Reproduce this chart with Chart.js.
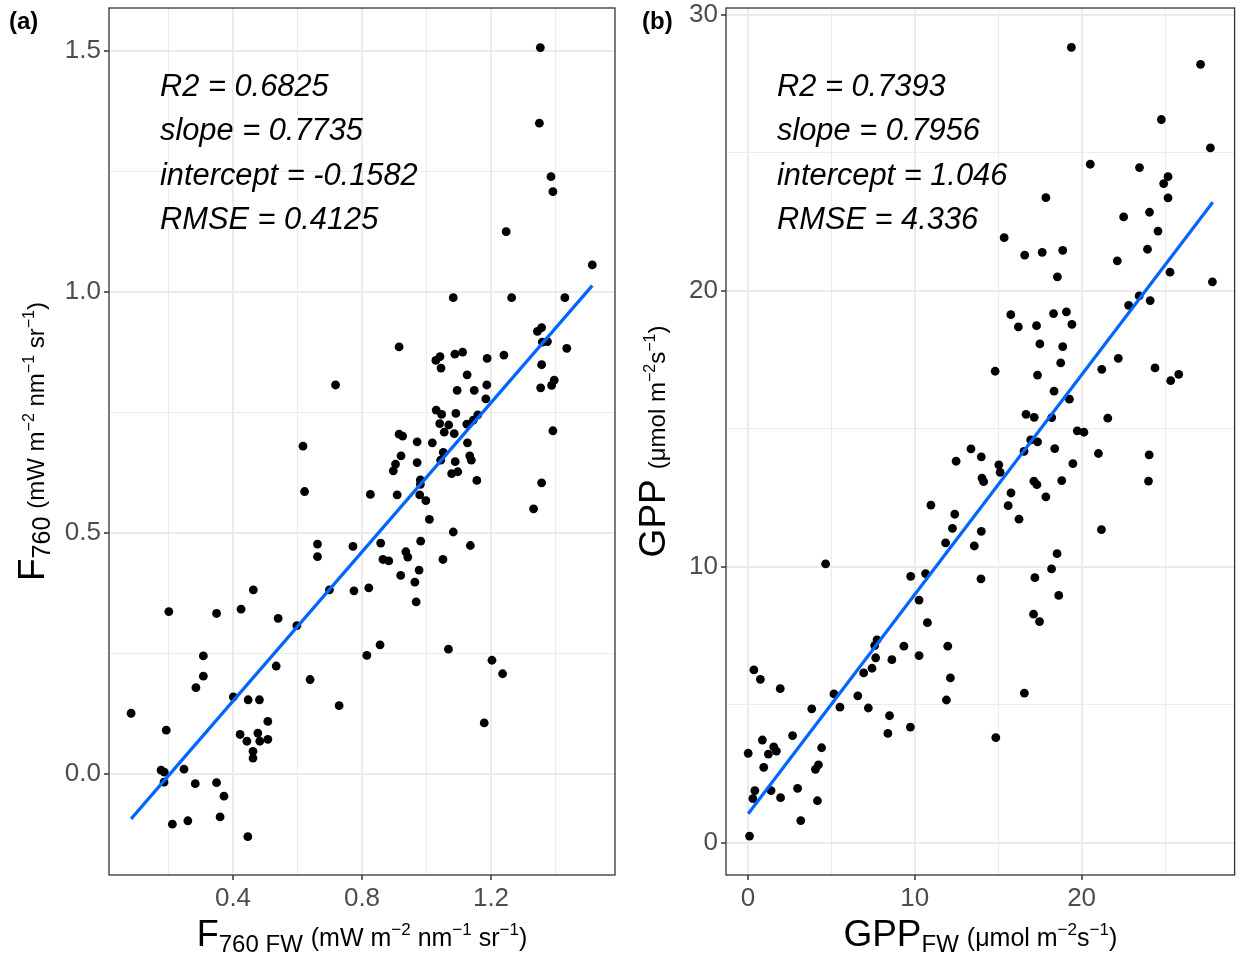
<!DOCTYPE html>
<html>
<head>
<meta charset="utf-8">
<script src="https://cdn.jsdelivr.net/npm/chart.js@4.4.1/dist/chart.umd.min.js"></script>
<style>
  html, body { margin: 0; padding: 0; background: #fff; }
  #wrap { position: relative; width: 1239px; height: 957px; }
  canvas { position: absolute; top: 0; }
  #chartA { left: 0; }
  #chartB { left: 620px; }
</style>
</head>
<body>
<div id="wrap">
  <canvas id="chartA" width="620" height="957"></canvas>
  <canvas id="chartB" width="619" height="957"></canvas>
</div>
<script>
'use strict';

// --- Panel (a): F760 FW vs F760 ---
const f760Fw = [
  1.353, 1.350, 1.386, 1.392, 1.247, 1.514, 1.083, 1.264, 1.429, 1.357,
  1.344, 1.359, 1.375, 1.435, 0.915, 1.029, 1.042, 1.088, 1.112, 1.045,
  1.188, 1.240, 1.126, 1.357, 1.095, 1.148, 1.187, 1.184, 1.354, 1.388,
  1.396, 1.030, 1.047, 1.091, 1.159, 1.145, 1.125, 1.041, 1.069, 1.055,
  1.086, 1.392, 0.915, 0.926, 0.971, 1.018, 1.127, 0.921, 1.052, 1.044,
  1.089, 1.134, 1.139, 0.904, 0.897, 0.971, 1.078, 1.097, 0.981, 0.981,
  1.156, 1.357, 0.826, 0.909, 0.979, 0.998, 1.009, 1.332, 1.083, 0.858,
  0.982, 1.136, 0.936, 0.942, 0.865, 0.883, 1.051, 0.977, 0.920, 0.964,
  0.821, 0.968, 0.856, 0.815, 1.068, 1.203, 1.236, 1.179, 0.718, 0.617,
  0.622, 0.662, 0.662, 0.772, 0.463, 0.201, 0.349, 0.425, 0.540, 0.598,
  0.699, 0.775, 0.308, 0.308, 0.285, 0.534, 0.639, 0.729, 0.084, 0.401,
  0.447, 0.482, 0.508, 0.193, 0.422, 0.477, 0.443, 0.483, 0.508, 0.462,
  0.462, 0.177, 0.187, 0.186, 0.248, 0.283, 0.349, 0.372, 0.360, 0.212,
  0.260, 0.446
];
const f760 = [
  1.507, 1.350, 1.239, 1.208, 1.125, 1.056, 0.988, 0.988, 0.988, 0.926,
  0.918, 0.896, 0.897, 0.883, 0.886, 0.858, 0.866, 0.871, 0.875, 0.842,
  0.862, 0.869, 0.828, 0.849, 0.796, 0.796, 0.807, 0.778, 0.801, 0.806,
  0.817, 0.755, 0.746, 0.748, 0.745, 0.734, 0.726, 0.727, 0.724, 0.709,
  0.706, 0.712, 0.705, 0.701, 0.689, 0.687, 0.687, 0.660, 0.667, 0.651,
  0.648, 0.660, 0.651, 0.643, 0.629, 0.646, 0.623, 0.627, 0.610, 0.601,
  0.609, 0.604, 0.580, 0.579, 0.579, 0.567, 0.528, 0.550, 0.502, 0.479,
  0.483, 0.474, 0.461, 0.450, 0.445, 0.442, 0.445, 0.423, 0.412, 0.398,
  0.386, 0.357, 0.268, 0.246, 0.259, 0.236, 0.208, 0.106, 0.807, 0.680,
  0.586, 0.477, 0.451, 0.472, 0.382, 0.337, 0.333, 0.342, 0.323, 0.308,
  0.382, 0.380, 0.245, 0.203, 0.179, 0.224, 0.196, 0.142, 0.126, 0.160,
  0.154, 0.154, 0.109, 0.091, 0.082, 0.085, 0.068, 0.068, 0.072, 0.047,
  0.033, 0.008, 0.004, -0.017, 0.010, -0.020, -0.018, -0.046, -0.089, -0.104,
  -0.097, -0.130
];
const fitAx = [0.084, 1.514];
const fitAy = [-0.093, 1.013];
const statsA = ['R2 = 0.6825', 'slope = 0.7735', 'intercept = -0.1582', 'RMSE = 0.4125'];

// --- Panel (b): GPP FW vs GPP ---
const gppFw = [
  4.66, 9.76, 10.65, 13.97, 10.26, 10.76, 7.74, 7.60, 9.35, 11.98,
  10.26, 7.66, 8.63, 7.44, 6.94, 12.14, 0.36, 0.75, 1.94, 5.16,
  6.59, 11.90, 5.52, 7.22, 3.83, 8.49, 8.39, 9.74, 2.68, 0.87,
  1.55, 1.71, 1.23, 0.02, 0.95, 4.42, 4.23, 4.05, 0.42, 0.30,
  1.39, 2.98, 1.96, 4.17, 3.17, 0.10, 17.20, 18.20, 18.63, 17.12,
  17.48, 16.57, 14.86, 13.37, 13.99, 12.48, 14.03, 14.13, 10.97, 12.40,
  12.26, 13.99, 11.85, 13.57, 27.84, 22.82, 23.45, 24.11, 15.76, 16.21,
  17.30, 18.32, 19.09, 19.42, 17.50, 18.87, 18.75, 14.82, 17.36, 22.20,
  21.21, 24.40, 25.34, 25.82, 18.35, 19.27, 16.67, 17.16, 18.21, 21.57,
  19.74, 20.14, 16.95, 17.36, 16.55, 18.39, 21.01, 24.05, 15.04, 15.12,
  19.48, 17.14, 17.32, 18.81, 24.01, 15.77, 15.60, 17.86, 16.25, 21.19,
  18.53, 19.39, 27.13, 24.78, 27.72, 20.52, 23.47, 25.18, 24.92, 25.18,
  17.86, 15.36, 16.59, 17.64, 18.87, 18.55, 22.52, 24.07, 24.58, 23.95,
  22.14, 25.30
];
const gpp = [
  10.11, 9.66, 9.76, 9.57, 8.80, 7.98, 7.36, 7.15, 7.13, 7.13,
  6.79, 6.71, 6.64, 6.33, 6.16, 5.98, 6.27, 5.93, 5.59, 5.40,
  5.33, 5.18, 4.92, 4.89, 4.86, 4.61, 3.97, 4.20, 3.89, 3.73,
  3.48, 3.33, 3.22, 3.25, 2.74, 3.45, 2.83, 2.67, 1.90, 1.61,
  1.90, 1.98, 1.64, 1.53, 0.81, 0.25, 9.61, 9.93, 8.97, 8.29,
  8.02, 5.43, 3.82, 14.28, 13.99, 13.83, 13.22, 13.09, 12.24, 11.91,
  11.40, 11.29, 10.87, 10.76, 20.33, 19.48, 19.82, 19.65, 19.14, 18.70,
  18.74, 19.18, 19.24, 18.79, 18.08, 17.98, 17.39, 17.09, 16.95, 17.56,
  17.16, 17.21, 16.75, 16.98, 16.37, 16.08, 15.53, 15.42, 15.41, 15.39,
  14.93, 14.88, 14.60, 14.53, 14.19, 14.29, 14.11, 14.06, 13.70, 13.43,
  13.74, 13.11, 12.98, 13.13, 13.11, 12.68, 12.22, 12.54, 11.73, 11.35,
  10.48, 28.82, 28.21, 26.21, 25.18, 24.59, 24.47, 24.14, 23.89, 23.37,
  23.38, 21.93, 21.30, 21.40, 21.47, 20.51, 22.68, 22.85, 22.17, 21.51,
  21.09, 20.68
];
const fitBx = [0.02, 27.86];
const fitBy = [1.06, 23.21];
const statsB = ['R2 = 0.7393', 'slope = 0.7956', 'intercept = 1.046', 'RMSE = 4.336'];

const FONT = "'Liberation Sans', Arial, sans-serif";
const zip = (xs, ys) => xs.map((x, i) => ({ x, y: ys[i] }));
const isMult = (v, step) => Math.abs(v / step - Math.round(v / step)) < 1e-6;

// text with sub/superscripts: [text, size, dy, gapAfter]
function drawRich(ctx, parts, x, y, vertical) {
  ctx.save();
  ctx.translate(x, y);
  if (vertical) ctx.rotate(-Math.PI / 2);
  ctx.fillStyle = '#000';
  ctx.textBaseline = 'alphabetic';
  ctx.textAlign = 'left';
  let total = 0;
  const widths = parts.map(p => {
    ctx.font = p[1] + 'px ' + FONT;
    const w = ctx.measureText(p[0]).width + (p[3] || 0);
    total += w;
    return w;
  });
  let cx = -total / 2;
  parts.forEach((p, i) => {
    ctx.font = p[1] + 'px ' + FONT;
    ctx.fillText(p[0], cx, p[2]);
    cx += widths[i];
  });
  ctx.restore();
}

function decor(o) {
  return {
    id: 'decor',
    afterDraw(chart) {
      const { ctx, chartArea: a } = chart;
      ctx.save();
      ctx.strokeStyle = '#333333';
      ctx.lineWidth = 1.3;
      ctx.strokeRect(a.left, a.top, a.right - a.left, a.bottom - a.top);
      ctx.fillStyle = '#000';
      ctx.textAlign = 'left';
      ctx.textBaseline = 'alphabetic';
      ctx.font = 'italic 30.8px ' + FONT;
      o.stats.forEach((s, i) => ctx.fillText(s, a.left + 51, 96 + i * 44.4));
      ctx.font = 'bold 24px ' + FONT;
      ctx.fillText(o.tag, o.tagX, 29);
      ctx.restore();
      drawRich(ctx, o.xTitle, (a.left + a.right) / 2, 946, false);
      drawRich(ctx, o.yTitle, o.yTitleX, (a.top + a.bottom) / 2, true);
    }
  };
}

function axis(min, max, step, major, fmt, fitFn) {
  return {
    type: 'linear', min, max,
    ticks: {
      stepSize: step, includeBounds: false, autoSkip: false, maxRotation: 0,
      color: '#4d4d4d', font: { size: 26, family: FONT }, padding: 3,
      callback: v => isMult(v, major) ? fmt(v) : ''
    },
    grid: {
      color: '#ebebeb',
      lineWidth: c => isMult(c.tick.value, major) ? 2 : 1,
      tickColor: c => isMult(c.tick.value, major) ? '#333333' : 'rgba(0,0,0,0)',
      tickWidth: 1.5,
      tickLength: 5
    },
    border: { display: false },
    afterFit: fitFn
  };
}

function makeChart(id, pts, lx, ly, xs, ys, pad, yW, o) {
  new Chart(document.getElementById(id), {
    type: 'scatter',
    data: {
      datasets: [
        {
          type: 'line', data: zip(lx, ly), borderColor: '#0066ff', borderWidth: 3.2,
          pointRadius: 0, fill: false, tension: 0, order: 0
        },
        {
          data: pts, backgroundColor: '#000', borderWidth: 0, pointRadius: 4.4, order: 1
        }
      ]
    },
    options: {
      responsive: false,
      animation: false,
      layout: { padding: pad },
      plugins: { legend: { display: false }, tooltip: { enabled: false } },
      scales: {
        x: axis(xs[0], xs[1], xs[2], xs[3], xs[4], s => { s.height = 82; s.paddingLeft = 0; s.paddingRight = 0; }),
        y: axis(ys[0], ys[1], ys[2], ys[3], ys[4], s => { s.width = yW; s.paddingTop = 0; s.paddingBottom = 0; })
      }
    },
    plugins: [decor(o)]
  });
}

const M2 = '\u22122', M1 = '\u22121';

makeChart('chartA', zip(f760Fw, f760), fitAx, fitAy,
  [0.0155, 1.5845, 0.2, 0.4, v => v.toFixed(1)],
  [-0.2095, 1.589, 0.25, 0.5, v => v.toFixed(1)],
  { left: 0, right: 5, top: 8, bottom: 0 }, 109,
  {
    stats: statsA, tag: '(a)', tagX: 9, yTitleX: 44,
    xTitle: [['F', 36, 0], ['760 FW', 24, 6, 8], ['(mW m', 25, 0], [M2, 17, -11], [' nm', 25, 0],
             [M1, 17, -11], [' sr', 25, 0], [M1, 17, -11], [')', 25, 0]],
    yTitle: [['F', 37, 0], ['760', 25, 6, 8], ['(mW m', 24, 0], [M2, 16, -10], [' nm', 24, 0],
             [M1, 16, -10], [' sr', 24, 0], [M1, 16, -10], [')', 24, 0]]
  });

makeChart('chartB', zip(gppFw, gpp), fitBx, fitBy,
  [-1.31, 29.17, 5, 10, v => String(v)],
  [-1.16, 30.25, 5, 10, v => String(v)],
  { left: 0, right: 1, top: 8, bottom: 0 }, 106,
  {
    stats: statsB, tag: '(b)', tagX: 22, yTitleX: 45,
    xTitle: [['GPP', 37, 0], ['FW', 24, 6, 8], ['(\u03bcmol m', 25, 0], [M2, 17, -11], ['s', 25, 0],
             [M1, 17, -11], [')', 25, 0]],
    yTitle: [['GPP', 37, 0, 10], ['(\u03bcmol m', 24, 0], [M2, 16, -10], ['s', 24, 0],
             [M1, 16, -10], [')', 24, 0]]
  });
</script>
</body>
</html>
